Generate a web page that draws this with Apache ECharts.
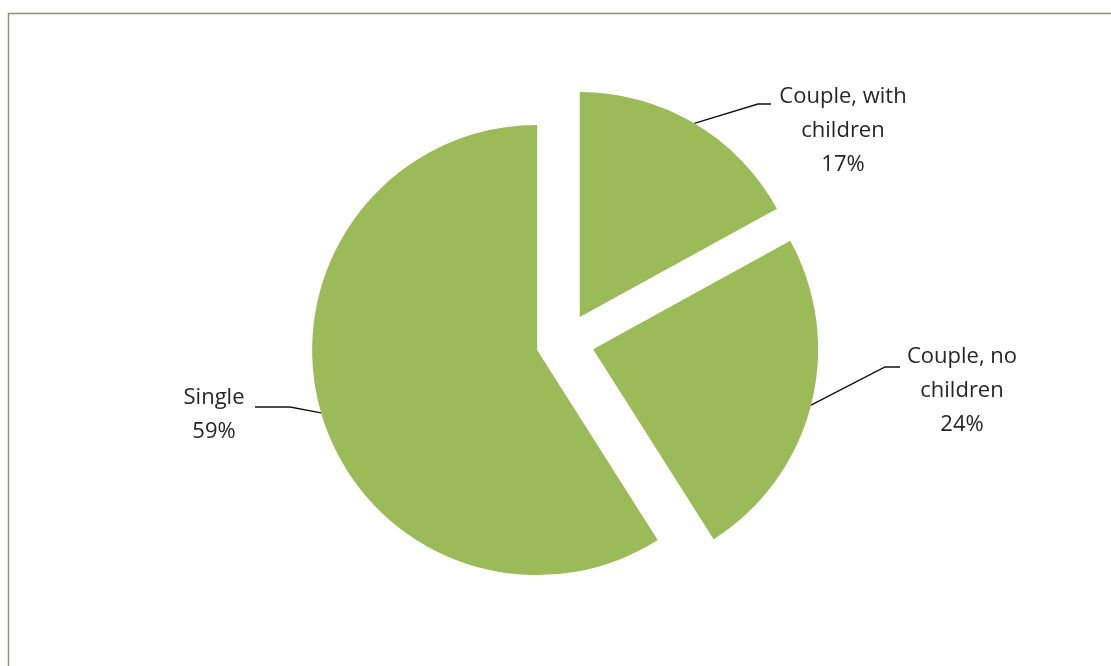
<!DOCTYPE html>
<html>
<head>
<meta charset="utf-8">
<script src="https://cdn.jsdelivr.net/npm/echarts@6/dist/echarts.min.js"></script>
<style>
  html, body { margin: 0; padding: 0; background: #fff; }
  #chart { width: 1111px; height: 666px; }
</style>
</head>
<body>
<div id="chart"></div>
<script>
// household types, clockwise from 12 o'clock
const categories = ['Couple, with\nchildren', 'Couple, no\nchildren', 'Single'];
const shares = [17, 24, 59];

// label centres, and leader line bend / end relative to them
const labelAt = [[843, 131], [962, 391], [214, 415]];
const bendAt = [[-85, -27], [-77, -24], [76, -8]];
const endAt = [[-72, -27], [-62, -24], [41, -8]];

const pieCenter = [565, 342];
const pieRadius = 225;
const explode = 29;
const green = '#9BBB59';

const chartDom = document.getElementById('chart');
const myChart = echarts.init(chartDom);

const total = shares.reduce(function (a, b) { return a + b; }, 0);

// one pie per slice, each pushed out along its own mid angle (exploded pie)
const series = [];
let cum = 0;
shares.forEach(function (v, i) {
  const mid = (cum + v / 2) / total * Math.PI * 2;
  cum += v;
  series.push({
    type: 'pie',
    center: [pieCenter[0] + Math.sin(mid) * explode, pieCenter[1] - Math.cos(mid) * explode],
    radius: pieRadius,
    startAngle: 90,
    clockwise: true,
    avoidLabelOverlap: false,
    emphasis: { disabled: true },
    label: {
      show: true,
      position: 'outside',
      formatter: '{b}\n{d}%',
      fontFamily: 'Open Sans',
      fontSize: 22,
      lineHeight: 34,
      color: '#262626'
    },
    labelLine: {
      show: true,
      lineStyle: { color: '#111', width: 1.4 }
    },
    labelLayout: function (params) {
      const k = params.dataIndex;
      if (k !== i || !params.labelLinePoints) return {};
      const p0 = params.labelLinePoints[0];
      const c = labelAt[k];
      return {
        x: c[0],
        y: c[1],
        align: 'center',
        verticalAlign: 'middle',
        labelLinePoints: [
          p0,
          [c[0] + bendAt[k][0], c[1] + bendAt[k][1]],
          [c[0] + endAt[k][0], c[1] + endAt[k][1]]
        ]
      };
    },
    data: categories.map(function (name, j) {
      const own = j === i;
      return {
        name: name,
        value: shares[j],
        itemStyle: { color: own ? green : 'rgba(0,0,0,0)' },
        label: { show: own },
        labelLine: { show: own }
      };
    })
  });
});

const option = {
  animation: false,
  graphic: [{
    type: 'rect',
    shape: { x: 8.5, y: 13.5, width: 1200, height: 800 },
    style: { fill: 'none', stroke: '#8E9375', lineWidth: 1.5 },
    silent: true
  }],
  series: series
};

myChart.setOption(option);
</script>
</body>
</html>
